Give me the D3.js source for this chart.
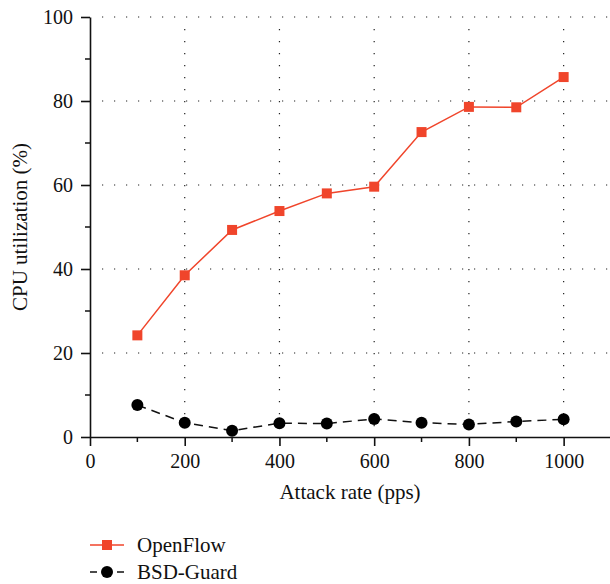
<!DOCTYPE html>
<html>
<head>
<meta charset="utf-8">
<script src="https://cdn.jsdelivr.net/npm/d3@7"></script>
<style>
  body { margin: 0; background: #fff; }
  svg text { font-family: "Liberation Serif", "DejaVu Serif", serif; fill: #111; }
</style>
</head>
<body>
<div id="chart"></div>
<script>
"use strict";

const rates = [100, 200, 300, 400, 500, 600, 700, 800, 900, 1000];
const openFlow = [24.2, 38.5, 49.3, 53.8, 58.0, 59.6, 72.6, 78.6, 78.5, 85.7];
const bsdGuard = [7.6, 3.4, 1.5, 3.3, 3.2, 4.3, 3.4, 3.0, 3.7, 4.2];
const xTicks = [0, 200, 400, 600, 800, 1000];
const yTicks = [0, 20, 40, 60, 80, 100];
const seriesNames = ["OpenFlow", "BSD-Guard"];

const w = 610, h = 584;
const red = "#f0452b";

function draw() {
  const svg = d3.select("#chart").append("svg")
    .attr("width", w).attr("height", h);

  const x = d3.scaleLinear().domain([0, 1100]).range([90, 611]);
  const y = d3.scaleLinear().domain([0, 100]).range([437, 17]);

  // dotted grid
  const grid = svg.append("g").attr("stroke", "#222").attr("stroke-width", 1.2)
    .attr("stroke-dasharray", "1.2,10.8");
  grid.selectAll(".gy").data(yTicks.slice(1)).enter().append("line")
    .attr("x1", x(0) + 12).attr("x2", w).attr("y1", (d) => y(d)).attr("y2", (d) => y(d));
  grid.selectAll(".gx").data(xTicks.slice(1)).enter().append("line")
    .attr("x1", (d) => x(d)).attr("x2", (d) => x(d)).attr("y1", y(100) + 12).attr("y2", y(0));

  // minor ticks
  const minor = svg.append("g").attr("stroke", "#111").attr("stroke-width", 1.5);
  minor.selectAll(".mx").data(d3.range(100, 1100, 200)).enter().append("line")
    .attr("x1", (d) => x(d)).attr("x2", (d) => x(d)).attr("y1", y(0)).attr("y2", y(0) + 5);
  minor.selectAll(".my").data(d3.range(10, 100, 20)).enter().append("line")
    .attr("y1", (d) => y(d)).attr("y2", (d) => y(d)).attr("x1", x(0)).attr("x2", x(0) - 5);

  // axes
  const xAxis = svg.append("g").attr("transform", `translate(0,${y(0)})`)
    .call(d3.axisBottom(x).tickValues(xTicks).tickFormat(d3.format("d"))
      .tickSize(9).tickPadding(8).tickSizeOuter(0));
  const yAxis = svg.append("g").attr("transform", `translate(${x(0)},0)`)
    .call(d3.axisLeft(y).tickValues(yTicks).tickSize(9).tickPadding(8).tickSizeOuter(0));
  [xAxis, yAxis].forEach((a) => {
    a.select(".domain").attr("stroke", "#111").attr("stroke-width", 1.6);
    a.selectAll(".tick line").attr("stroke", "#111").attr("stroke-width", 1.6);
    a.selectAll("text").style("font-size", "20px").attr("fill", "#111");
  });

  svg.append("text").attr("x", 350).attr("y", 499).attr("text-anchor", "middle")
    .style("font-size", "21px").text("Attack rate (pps)");
  svg.append("text").attr("transform", `translate(27,${y(50)}) rotate(-90)`)
    .attr("text-anchor", "middle").style("font-size", "21px").text("CPU utilization (%)");

  const line = d3.line().x((d) => x(d[0])).y((d) => y(d[1]));
  const of = d3.zip(rates, openFlow);
  const bg = d3.zip(rates, bsdGuard);

  // BSD-Guard series
  svg.append("path").datum(bg).attr("d", line).attr("fill", "none")
    .attr("stroke", "#111").attr("stroke-width", 1.5).attr("stroke-dasharray", "9,6");
  svg.selectAll(".bg").data(bg).enter().append("circle")
    .attr("cx", (d) => x(d[0])).attr("cy", (d) => y(d[1])).attr("r", 6).attr("fill", "#000");

  // OpenFlow series
  svg.append("path").datum(of).attr("d", line).attr("fill", "none")
    .attr("stroke", red).attr("stroke-width", 1.5);
  svg.selectAll(".of").data(of).enter().append("rect")
    .attr("x", (d) => x(d[0]) - 5).attr("y", (d) => y(d[1]) - 5)
    .attr("width", 10).attr("height", 10).attr("fill", red);

  // legend
  const leg = svg.append("g");
  const ly = [545, 572];
  leg.append("line").attr("x1", 90).attr("x2", 124).attr("y1", ly[0]).attr("y2", ly[0])
    .attr("stroke", red).attr("stroke-width", 1.5);
  leg.append("rect").attr("x", 102).attr("y", ly[0] - 5).attr("width", 10).attr("height", 10).attr("fill", red);
  leg.append("line").attr("x1", 90).attr("x2", 124).attr("y1", ly[1]).attr("y2", ly[1])
    .attr("stroke", "#111").attr("stroke-width", 1.5).attr("stroke-dasharray", "7,6.5");
  leg.append("circle").attr("cx", 107).attr("cy", ly[1]).attr("r", 6).attr("fill", "#000");
  leg.selectAll(".lt").data(seriesNames).enter().append("text")
    .attr("x", 137).attr("y", (d, i) => ly[i] + 7).style("font-size", "21px").text((d) => d);
}

draw();
</script>
</body>
</html>
